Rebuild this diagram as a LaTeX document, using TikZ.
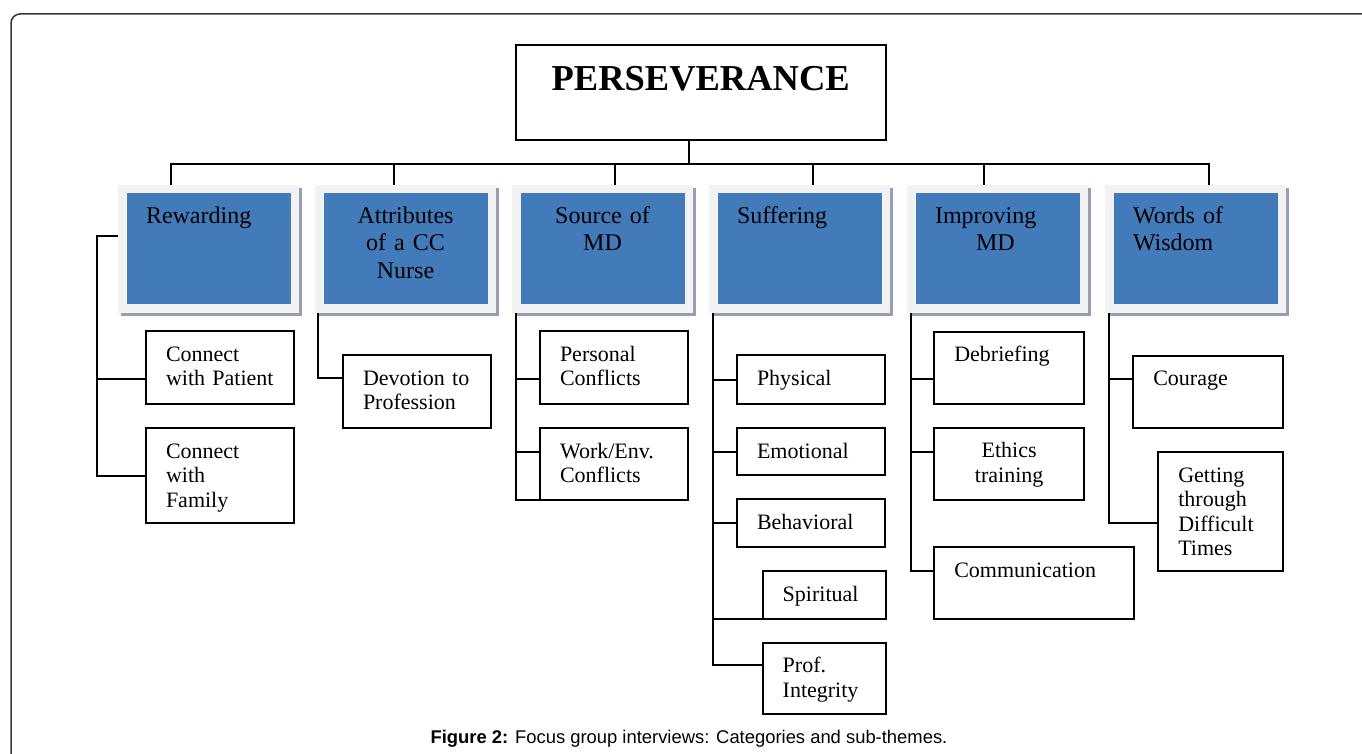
\documentclass[tikz,border=0pt]{standalone}
\usepackage{fontspec}
\setmainfont{Liberation Serif}
\newfontfamily\captionfont{Liberation Sans}
\usepackage{tikz}

\definecolor{catblue}{RGB}{67,122,186}
\definecolor{framegray}{RGB}{242,242,242}
\definecolor{shadowgray}{RGB}{150,158,176}
\definecolor{bordergray}{RGB}{55,55,55}

\begin{document}
\begin{tikzpicture}[x=1pt, y=-1pt]
			\tikzstyle{theme} = [rectangle, draw=black, line width=2pt, minimum width=370pt, inner sep=0pt, text height=46pt, text depth=49.3pt, font=\fontsize{36.5}{40}\selectfont\bfseries]
			
			\tikzstyle{category} = [rectangle, fill=catblue, draw=framegray, line width=8.5pt, minimum width=172.5pt, minimum height=119.5pt, inner sep=0pt, outer sep=4.25pt, text height=34pt, text depth=85.5pt, text width=125pt, font=\fontsize{24}{27.5}\selectfont, preaction={draw=shadowgray, fill=shadowgray, transform canvas={xshift=3pt, yshift=-3pt}}]
			
			\tikzstyle{subtheme} = [rectangle, draw=black, line width=2pt, anchor=north west, inner xsep=20pt, inner ysep=0pt, outer sep=0pt, text height=30pt, align=left, font=\fontsize{22}{24.5}\selectfont]
			
			\tikzstyle{link} = [draw=black, line width=2pt]
			
			\useasboundingbox (0,0) rectangle (1362,754);
			\clip (0,0) rectangle (1362,754);
			\draw [bordergray, line width=1.5pt, rounded corners=9pt] (11,14) rectangle (1420,800);
			
			% Top of the chart
			\node (theme) [theme] at (700.7,92.65) {PERSEVERANCE};
			
			% Categories
			\node (reward) [category, align=left] at (208.5,248.75) {Rewarding};
			\node (attrib) [category, align=center] at (405.5,248.75) {Attributes\\of a CC\\Nurse};
			\node (source) [category, align=center] at (602.5,248.75) {Source of\\MD};
			\node (suffer) [category, align=left] at (799.5,248.75) {Suffering};
			\node (improve) [category, align=left] at (997.5,248.75) {Improving\\\hspace*{41pt}MD};
			\node (wisdom) [category, align=left] at (1195.5,248.75) {Words of\\Wisdom};
			
			% Sub-themes
			\node (patient) [subtheme, text width=108pt, text depth=43pt] at (146,331) {Connect\\with Patient};
			\node (family) [subtheme, text width=108pt, text depth=65pt] at (146,428) {Connect\\with\\Family};
			\node (devotion) [subtheme, text width=108pt, text depth=43pt] at (343,355) {Devotion to\\Profession};
			\node (personal) [subtheme, text width=108pt, text depth=43pt] at (540,331) {Personal\\Conflicts};
			\node (workenv) [subtheme, text width=108pt, text depth=41.5pt] at (540,428) {Work/Env.\\Conflicts};
			\node (physical) [subtheme, text width=108pt, text depth=19pt] at (737,355) {Physical};
			\node (emotional) [subtheme, text width=108pt, text depth=17pt] at (737,428) {Emotional};
			\node (behavioral) [subtheme, text width=108pt, text depth=18pt] at (737,499.3) {Behavioral};
			\node (spiritual) [subtheme, text width=83pt, text depth=17.7pt] at (762.7,571) {Spiritual};
			\node (integrity) [subtheme, text width=83pt, text depth=41.3pt] at (762.7,642.7) {Prof.\\Integrity};
			\node (debrief) [subtheme, text width=109.7pt, text depth=42.3pt] at (934.3,331.7) {Debriefing};
			\node (ethics) [subtheme, text width=109.7pt, text depth=42.3pt, align=center] at (934.3,427.7) {Ethics\\training};
			\node (communication) [subtheme, text width=159.7pt, text depth=41.4pt] at (934.3,547.3) {Communication};
			\node (courage) [subtheme, text width=110pt, text depth=42pt] at (1133.3,355.7) {Courage};
			\node (difficult) [subtheme, text width=85pt, text depth=88.7pt] at (1158.3,452.3) {Getting\\through\\Difficult\\Times};
			
			% Caption
			\node (caption) [anchor=base, font=\captionfont\fontsize{18.4}{20}\selectfont] at (689,743.5) {\textbf{Figure 2:} Focus group interviews: Categories and sub-themes.};
			
			% Lines from the top
			\coordinate (bus) at (688.7,164);
			\draw [link] (bus) -- (bus |- theme.south);
			\draw [link] ([xshift=-37.5pt]reward.north) |- (bus) -| ([xshift=13pt]wisdom.north);
			\draw [link] ([xshift=-12pt]attrib.north) -- ([xshift=-12pt]attrib.north |- bus);
			\draw [link] ([xshift=12.5pt]source.north) -- ([xshift=12.5pt]source.north |- bus);
			\draw [link] ([xshift=13pt]suffer.north) -- ([xshift=13pt]suffer.north |- bus);
			\draw [link] ([xshift=-13.5pt]improve.north) -- ([xshift=-13.5pt]improve.north |- bus);
			
			% Lines to the sub-themes
			\draw [link] ([yshift=12.75pt]reward.west) -- ++(-21,0) coordinate (rspine) |- ([yshift=-11.8pt]patient.west) (rspine) |- (family.west);
			\draw [link] ([xshift=3pt]attrib.south west) |- ([yshift=13.5pt]devotion.west);
			\draw [link] ([xshift=3.5pt]source.south west) coordinate (sspine) |- ([yshift=-11.8pt]personal.west) (sspine) |- ([yshift=11.8pt]workenv.west) (sspine) |- (workenv.south west);
			\draw [link] ([xshift=4pt]suffer.south west) coordinate (fspine) |- (physical.west) (fspine) |- (emotional.west) (fspine) |- (behavioral.west) (fspine) |- (spiritual.south west) (fspine) |- ([yshift=13.3pt]integrity.west);
			\draw [link] ([xshift=4pt]improve.south west) coordinate (ispine) |- ([yshift=-11.5pt]debrief.west) (ispine) |- ([yshift=12pt]ethics.west) (ispine) |- ([yshift=12.3pt]communication.west);
			\draw [link] ([xshift=4pt]wisdom.south west) coordinate (wspine) |- ([yshift=12.4pt]courage.west) (wspine) |- ([yshift=-11.7pt]difficult.west);
		\end{tikzpicture}
\end{document}
